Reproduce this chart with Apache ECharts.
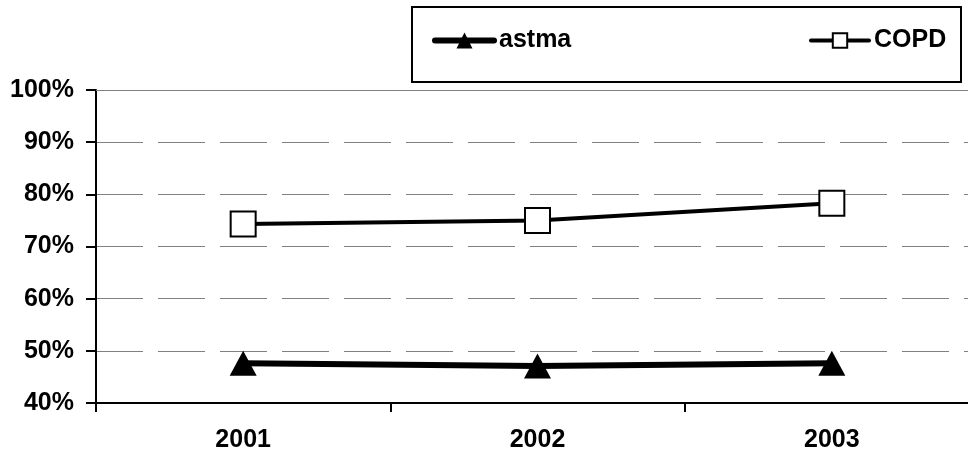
<!DOCTYPE html>
<html>
<head>
<meta charset="utf-8">
<script src="https://cdn.jsdelivr.net/npm/echarts@6/dist/echarts.min.js"></script>
<style>
html,body{margin:0;padding:0;background:#fff;overflow:hidden;}
#chart{width:980px;height:455px;}
</style>
</head>
<body>
<div id="chart"></div>
<script>
const categories = ['2001', '2002', '2003'];
const astma = [47.6, 47.1, 47.6];
const copd = [74.3, 75.0, 78.3];
const yMin = 40, yMax = 100, yStep = 10;

const FONT = "'Liberation Sans', Arial, sans-serif";
const chart = echarts.init(document.getElementById('chart'), null, {renderer: 'canvas'});
chart.setOption({
  backgroundColor: '#ffffff',
  animation: false,
  textStyle: {fontFamily: FONT},
  graphic: [{
    type: 'rect',
    shape: {x: 412, y: 7, width: 549, height: 75},
    style: {fill: '#ffffff', stroke: '#000000', lineWidth: 2},
    z: 0
  }],
  legend: [{
    data: ['astma'],
    left: 432, top: 28,
    itemWidth: 59, itemHeight: 20,
    lineStyle: {width: 6, cap: 'round', color: '#000'},
    textStyle: {fontSize: 25, fontWeight: 'bold', color: '#000', fontFamily: FONT},
    itemGap: 0, padding: 0
  }, {
    data: ['COPD'],
    left: 809, top: 28,
    itemWidth: 58, itemHeight: 18,
    lineStyle: {width: 4, cap: 'round', color: '#000'},
    textStyle: {fontSize: 25, fontWeight: 'bold', color: '#000', fontFamily: FONT},
    itemGap: 0, padding: 0
  }],
  grid: {left: 96, top: 90, width: 883, height: 313, containLabel: false},
  xAxis: [{
    type: 'category',
    data: categories,
    boundaryGap: true,
    axisLine: {lineStyle: {color: '#000', width: 2}},
    axisTick: {show: true, length: 9, lineStyle: {color: '#000', width: 2}, alignWithLabel: false},
    axisLabel: {fontSize: 25, fontWeight: 'bold', color: '#000', margin: 25, fontFamily: FONT},
    splitLine: {show: false}
  }, {
    type: 'category',
    data: categories,
    position: 'top',
    axisLine: {lineStyle: {color: '#808080', width: 1}},
    axisTick: {show: false},
    axisLabel: {show: false},
    splitLine: {show: false}
  }],
  yAxis: {
    type: 'value',
    min: yMin, max: yMax, interval: yStep,
    axisLine: {show: true, lineStyle: {color: '#000', width: 2}},
    axisTick: {show: true, length: 10, lineStyle: {color: '#000', width: 2}},
    axisLabel: {formatter: '{value}%', fontSize: 25, fontWeight: 'bold', color: '#000', margin: 22, fontFamily: FONT},
    splitLine: {show: true, lineStyle: {color: '#808080', width: 1, type: [47, 15]}}
  },
  series: [{
    name: 'astma',
    type: 'line',
    data: astma,
    symbol: 'triangle',
    symbolSize: [27, 25],
    itemStyle: {color: '#000'},
    lineStyle: {color: '#000', width: 6},
    z: 3
  }, {
    name: 'COPD',
    type: 'line',
    data: copd,
    symbol: 'rect',
    symbolSize: 25,
    showAllSymbol: true,
    itemStyle: {color: '#fff', borderColor: '#000', borderWidth: 2},
    lineStyle: {color: '#000', width: 4},
    z: 3
  }]
});
</script>
</body>
</html>
